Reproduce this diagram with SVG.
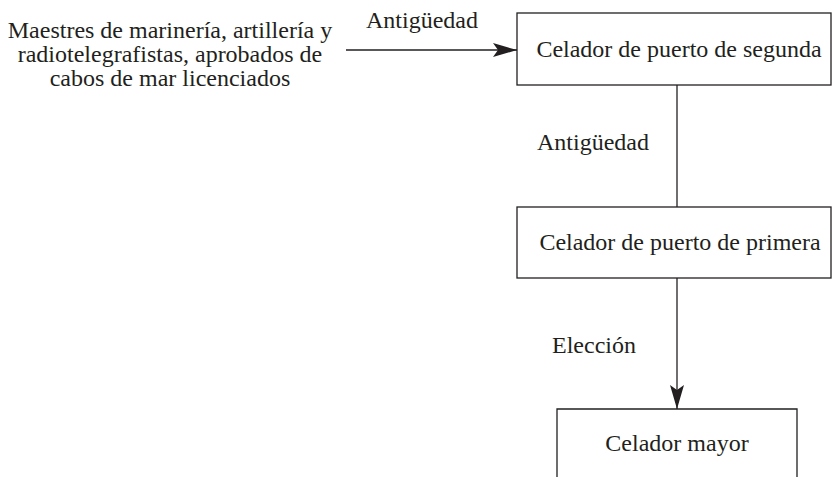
<svg xmlns="http://www.w3.org/2000/svg" width="833" height="477" viewBox="0 0 833 477">
<style>
text{font-family:'Liberation Serif','Times New Roman',serif;font-size:24px;fill:#231f20}
.box{fill:#fff;stroke:#231f20;stroke-width:1.3}
.ln{stroke:#231f20;stroke-width:1.3;fill:none}
</style>
<defs>
<marker id="ah" markerUnits="userSpaceOnUse" markerWidth="26" markerHeight="16" refX="24" refY="8" orient="auto">
<path d="M0,1 L24,8 L0,15 L5,8 Z" fill="#231f20"/>
</marker>
</defs>
<rect width="833" height="477" fill="#fff"/>
<g id="connectors">
<line class="ln" x1="346" y1="50" x2="517" y2="50" marker-end="url(#ah)"/>
<line class="ln" x1="677" y1="85" x2="677" y2="207"/>
<line class="ln" x1="677" y1="278" x2="677" y2="409" marker-end="url(#ah)"/>
<text x="422" y="28" text-anchor="middle">Antigüedad</text>
<text x="593" y="150" text-anchor="middle">Antigüedad</text>
<text x="594" y="353" text-anchor="middle">Elección</text>
</g>
<g id="source">
<text x="170" y="38" text-anchor="middle">Maestres de marinería, artillería y</text>
<text x="170" y="62" text-anchor="middle">radiotelegrafistas, aprobados de</text>
<text x="170" y="86" text-anchor="middle">cabos de mar licenciados</text>
</g>
<g id="segunda">
<rect class="box" x="517" y="13" width="314" height="72"/>
<text x="679" y="57" text-anchor="middle">Celador de puerto de segunda</text>
</g>
<g id="primera">
<rect class="box" x="517" y="207" width="314" height="71"/>
<text x="680" y="250" text-anchor="middle">Celador de puerto de primera</text>
</g>
<g id="mayor">
<path class="box" d="M557,480 V409 H797 V480"/>
<text x="677" y="451" text-anchor="middle">Celador mayor</text>
</g>
</svg>
